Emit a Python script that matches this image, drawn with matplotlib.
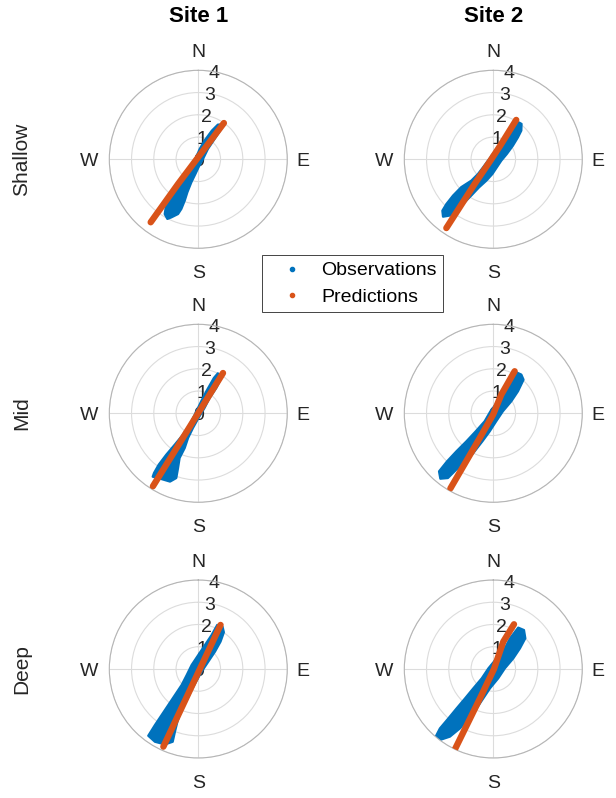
import numpy as np
import matplotlib.pyplot as plt
from matplotlib.lines import Line2D

plt.rcParams['font.family'] = ['Liberation Sans', 'DejaVu Sans']

sites = ['Site 1', 'Site 2']
depths = ['Shallow', 'Mid', 'Deep']
compass = ['N', 'E', 'S', 'W']
compass_deg = [0, 90, 180, 270]
speed_ticks = [0, 1, 2, 3, 4]

# observed clouds (outline), east / north velocity components
s1_shallow_obs_u = [0.88, 0.61, 0.28, 0.06, -0.13, -0.31, -0.54, -0.91, -1.24, -1.44, -1.51, -1.39, -1.21,
                    -0.91, -0.76, -0.61, -0.49, -0.31, -0.13, 0.01, 0.21, 0.43, 0.73, 1.03, 1.00]
s1_shallow_obs_v = [1.56, 1.29, 0.84, 0.46, 0.01, -0.43, -0.81, -1.18, -1.56, -2.01, -2.46, -2.68, -2.61,
                    -2.46, -2.23, -1.86, -1.48, -1.03, -0.66, -0.36, 0.01, 0.46, 0.91, 1.36, 1.56]
s2_shallow_obs_u = [0.96, 0.81, 0.58, 0.28, -0.01, -0.24, -0.46, -0.69, -0.99, -1.44, -1.81, -2.11, -2.29, -2.26,
                    -1.96, -1.66, -1.36, -0.99, -0.64, -0.31, -0.04, 0.16, 0.36, 0.61, 0.88, 1.11, 1.26, 1.27, 1.15]
s2_shallow_obs_v = [1.59, 1.29, 0.99, 0.61, 0.24, -0.06, -0.36, -0.66, -0.96, -1.25, -1.63, -2.01, -2.31, -2.58,
                    -2.53, -2.31, -2.01, -1.63, -1.26, -0.96, -0.66, -0.36, -0.06, 0.24, 0.61, 0.99, 1.29, 1.59, 1.66]
s1_mid_obs_u = [0.88, 0.70, 0.36, 0.13, -0.13, -0.39, -0.69, -1.06, -1.44, -1.78, -1.99, -2.05, -1.81, -1.27,
                -0.99, -0.91, -0.84, -0.61, -0.46, -0.24, 0.01, 0.28, 0.51, 0.81, 1.03]
s1_mid_obs_v = [1.80, 1.59, 0.99, 0.54, 0.00, -0.51, -0.96, -1.41, -1.86, -2.31, -2.68, -2.85, -2.91, -3.07,
                -2.91, -2.46, -2.01, -1.56, -1.11, -0.66, -0.21, 0.24, 0.69, 1.14, 1.59]
s2_mid_obs_u = [1.00, 0.81, 0.51, 0.21, -0.13, -0.39, -0.79, -1.21, -1.66, -2.08, -2.44, -2.38,
                -2.04, -1.66, -1.21, -0.84, -0.49, -0.16, 0.13, 0.43, 0.81, 1.11, 1.36, 1.26]
s2_mid_obs_v = [1.86, 1.44, 0.99, 0.54, 0.09, -0.36, -0.81, -1.26, -1.71, -2.16, -2.61, -2.94,
                -2.91, -2.53, -2.16, -1.71, -1.26, -0.81, -0.36, 0.09, 0.54, 0.99, 1.51, 1.74]
s1_deep_obs_u = [0.85, 0.60, 0.30, 0.00, -0.30, -0.52, -0.75, -1.05, -1.35, -1.65, -1.95, -2.25, -1.95, -1.50,
                 -1.15, -1.05, -0.94, -0.79, -0.55, -0.34, -0.10, 0.15, 0.45, 0.75, 1.00, 1.15, 1.09]
s1_deep_obs_v = [1.98, 1.53, 1.08, 0.63, 0.18, -0.27, -0.72, -1.17, -1.62, -2.07, -2.52, -3.00, -3.27, -3.39,
                 -3.27, -2.82, -2.37, -1.92, -1.47, -1.02, -0.57, -0.12, 0.33, 0.78, 1.23, 1.65, 1.90]
s2_deep_obs_u = [1.12, 0.75, 0.52, 0.15, -0.22, -0.52, -0.90, -1.27, -1.65, -2.02, -2.40, -2.59, -2.40,
                 -1.95, -1.50, -1.12, -0.75, -0.45, -0.15, 0.22, 0.52, 0.90, 1.20, 1.44, 1.38]
s2_deep_obs_v = [1.86, 1.38, 0.93, 0.48, 0.03, -0.42, -0.87, -1.32, -1.77, -2.22, -2.67, -3.04, -3.19,
                 -3.04, -2.67, -2.22, -1.77, -1.32, -0.87, -0.42, 0.03, 0.48, 0.93, 1.38, 1.75]

# predicted currents (east / north components along the cloud)
s1_shallow_pred_u = [1.15, -0.91, -2.14]
s1_shallow_pred_v = [1.63, -1.11, -2.83]
s2_shallow_pred_u = [1.03, 0.31, -0.13, -0.84, -2.11]
s2_shallow_pred_v = [1.77, 0.61, -0.06, -1.11, -3.09]
s1_mid_pred_u = [1.11, -0.38, -2.04]
s1_mid_pred_v = [1.81, -0.60, -3.28]
s2_mid_pred_u = [0.96, 0.36, -0.01, -0.61, -1.93]
s2_mid_pred_v = [1.89, 0.84, -0.06, -1.11, -3.38]
s1_deep_pred_u = [1.00, 0.07, -1.57]
s1_deep_pred_v = [1.98, 0.00, -3.49]
s2_deep_pred_u = [0.93, 0.45, 0.03, -0.60, -1.72]
s2_deep_pred_v = [2.01, 1.23, 0.00, -1.32, -3.60]

obs = {
    (0, 0): (s1_shallow_obs_u, s1_shallow_obs_v), (0, 1): (s2_shallow_obs_u, s2_shallow_obs_v),
    (1, 0): (s1_mid_obs_u, s1_mid_obs_v), (1, 1): (s2_mid_obs_u, s2_mid_obs_v),
    (2, 0): (s1_deep_obs_u, s1_deep_obs_v), (2, 1): (s2_deep_obs_u, s2_deep_obs_v),
}
pred = {
    (0, 0): (s1_shallow_pred_u, s1_shallow_pred_v), (0, 1): (s2_shallow_pred_u, s2_shallow_pred_v),
    (1, 0): (s1_mid_pred_u, s1_mid_pred_v), (1, 1): (s2_mid_pred_u, s2_mid_pred_v),
    (2, 0): (s1_deep_pred_u, s1_deep_pred_v), (2, 1): (s2_deep_pred_u, s2_deep_pred_v),
}

BLUE = '#0072BD'
ORANGE = '#D95319'
TXT = '#262626'


def to_polar(u, v):
    u = np.asarray(u)
    v = np.asarray(v)
    return np.arctan2(u, v), np.hypot(u, v)


W, H = 616, 798
fig = plt.figure(figsize=(W / 100, H / 100), dpi=100)

col_x = [198.3, 493.3]
row_y = [159.3, 413.3, 669.0]
R = 89
# where the compass letters sit, in radius units (outer ring = 4)
label_r = [4.88, 4.72, 5.05, 4.9]

for i in range(3):
    for j in range(2):
        cx, cy = col_x[j], row_y[i]
        ax = fig.add_axes([(cx - R) / W, 1 - (cy + R) / H, 2 * R / W, 2 * R / H], projection='polar')
        ax.set_theta_zero_location('N')
        ax.set_theta_direction(-1)
        ax.set_axisbelow(True)

        th, r = to_polar(*obs[(i, j)])
        ax.fill(th, r, facecolor=BLUE, edgecolor=BLUE, lw=1.6, joinstyle='round', zorder=2)
        th, r = to_polar(*pred[(i, j)])
        ax.plot(th, r, color=ORANGE, lw=4.6, solid_capstyle='round', zorder=3)

        ax.set_rlim(0, 4)
        ax.set_thetagrids(compass_deg, [''] * 4)
        for lab, d, lr in zip(compass, compass_deg, label_r):
            ax.text(np.deg2rad(d), lr, lab, ha='center', va='center_baseline', fontsize=14,
                    color=TXT, clip_on=False)
        ax.set_rticks(speed_ticks)
        ax.set_yticklabels([str(t) for t in speed_ticks], ha='center', va='center_baseline')
        ax.set_rlabel_position(10)
        ax.tick_params(axis='y', labelsize=14, labelcolor=TXT, pad=0)
        ax.grid(True, color='#DCDCDC', lw=0.8)
        ax.spines['polar'].set_color('#B5B5B5')
        ax.spines['polar'].set_linewidth(0.8)

for j, s in enumerate(sites):
    fig.text(col_x[j] / W, 1 - 16 / H, s, ha='center', va='center', fontsize=16, fontweight='bold')
for i, d in enumerate(depths):
    fig.text(22 / W, 1 - row_y[i] / H, d, ha='center', va='center', rotation=90, fontsize=15, color=TXT)

handles = [Line2D([], [], ls='', marker='o', ms=3, color=BLUE),
           Line2D([], [], ls='', marker='o', ms=3, color=ORANGE)]
leg = fig.legend(handles, ['Observations', 'Predictions'], loc='center',
                 bbox_to_anchor=(352.5 / W, 1 - 283.7 / H), fontsize=14, frameon=True,
                 fancybox=False, framealpha=1, edgecolor='#262626', handlelength=2.4,
                 handletextpad=0.3, labelspacing=0.45, borderpad=0.35, borderaxespad=0)
leg.get_frame().set_linewidth(0.6)

fig.savefig('out.png', dpi=100)
